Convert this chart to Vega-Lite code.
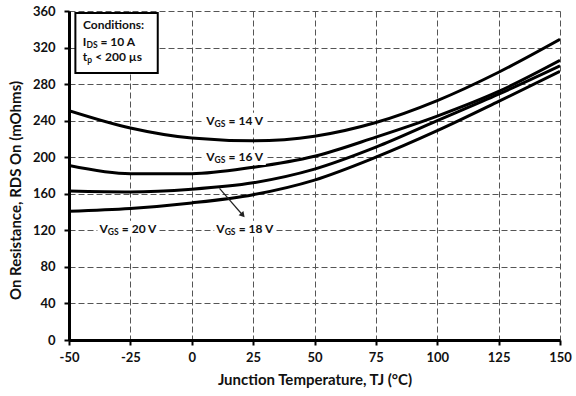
{
  "$schema": "https://vega.github.io/schema/vega-lite/v6.json",
  "width": 491,
  "height": 329,
  "autosize": {"type": "none"},
  "padding": {"left": 69, "top": 11, "right": 16, "bottom": 56},
  "background": "white",
  "config": {
    "view": {"stroke": null},
    "font": "Lato",
    "text": {"font": "Lato", "fontWeight": "bold", "fontSize": 12, "color": "#111"},
    "axis": {
      "titleFont": "Lato", "titleFontSize": 15, "titleFontWeight": "bold", "titleColor": "#111",
      "labelFont": "Lato", "labelFontSize": 13, "labelFontWeight": "bold", "labelColor": "#111",
      "labelFlush": false, "labelOverlap": false,
      "domainColor": "black", "domainWidth": 3,
      "tickColor": "black", "tickWidth": 2, "tickSize": 5,
      "grid": true, "gridColor": "#555", "gridDash": [6, 3], "gridWidth": 1
    }
  },
  "datasets": {
    "curves": [
      {"T": -50, "R": 251, "s": "14 V"}, {"T": -25, "R": 232, "s": "14 V"}, {"T": 0, "R": 221, "s": "14 V"}, {"T": 25, "R": 218, "s": "14 V"}, {"T": 50, "R": 223, "s": "14 V"}, {"T": 75, "R": 238, "s": "14 V"}, {"T": 100, "R": 262, "s": "14 V"}, {"T": 125, "R": 293, "s": "14 V"}, {"T": 150, "R": 329, "s": "14 V"},
      {"T": -50, "R": 191, "s": "16 V"}, {"T": -25, "R": 182, "s": "16 V"}, {"T": 0, "R": 182, "s": "16 V"}, {"T": 25, "R": 189, "s": "16 V"}, {"T": 50, "R": 201, "s": "16 V"}, {"T": 75, "R": 222, "s": "16 V"}, {"T": 100, "R": 245, "s": "16 V"}, {"T": 125, "R": 272, "s": "16 V"}, {"T": 150, "R": 306, "s": "16 V"},
      {"T": -50, "R": 163, "s": "18 V"}, {"T": -25, "R": 162, "s": "18 V"}, {"T": 0, "R": 165, "s": "18 V"}, {"T": 25, "R": 172, "s": "18 V"}, {"T": 50, "R": 187, "s": "18 V"}, {"T": 75, "R": 211, "s": "18 V"}, {"T": 100, "R": 240, "s": "18 V"}, {"T": 125, "R": 269, "s": "18 V"}, {"T": 150, "R": 300, "s": "18 V"},
      {"T": -50, "R": 141, "s": "20 V"}, {"T": -25, "R": 144, "s": "20 V"}, {"T": 0, "R": 150, "s": "20 V"}, {"T": 25, "R": 159, "s": "20 V"}, {"T": 50, "R": 175, "s": "20 V"}, {"T": 75, "R": 200, "s": "20 V"}, {"T": 100, "R": 229, "s": "20 V"}, {"T": 125, "R": 261, "s": "20 V"}, {"T": 150, "R": 294, "s": "20 V"}
    ],
    "labels": [
      {"T": 9.3, "R": 240, "base": "V", "sub": "GS", "rest": "= 14 V", "kind": "v"},
      {"T": 9.3, "R": 200, "base": "V", "sub": "GS", "rest": "= 16 V", "kind": "v"},
      {"T": 13.4, "R": 122, "base": "V", "sub": "GS", "rest": "= 18 V", "kind": "v"},
      {"T": -34.2, "R": 122, "base": "V", "sub": "GS", "rest": "= 20 V", "kind": "v"},
      {"T": -42.9, "R": 326, "base": "I", "sub": "DS", "rest": "= 10 A", "kind": "c"},
      {"T": -42.6, "R": 310, "base": "t", "sub": "p", "rest": "< 200 µs", "kind": "p"}
    ],
    "box": [{"T1": -47.4, "T2": -13.85, "R1": 292.2, "R2": 357.8}],
    "heading": [{"T": -44.3, "R": 344.5, "text": "Conditions:"}],
    "arrow": [{"T1": 11.3, "R1": 166, "T2": 20.8, "R2": 136.5}]
  },
  "layer": [
    {
      "data": {"name": "curves"},
      "mark": {"type": "line", "interpolate": "monotone", "color": "black", "strokeWidth": 3, "clip": true},
      "encoding": {
        "x": {
          "field": "T", "type": "quantitative",
          "scale": {"domain": [-50, 150], "nice": false, "zero": false},
          "axis": {
            "values": [-50, -25, 0, 25, 50, 75, 100, 125, 150],
            "tickCount": 20,
            "labelExpr": "replace(datum.label, '−', '-')",
            "title": "Junction Temperature, TJ (°C)",
            "titleY": 39, "titleBaseline": "middle",
            "labelPadding": 6
          }
        },
        "y": {
          "field": "R", "type": "quantitative",
          "scale": {"domain": [0, 360], "nice": false},
          "axis": {
            "values": [0, 40, 80, 120, 160, 200, 240, 280, 320, 360],
            "tickCount": 20,
            "title": "On Resistance, RDS On (mOhms)",
            "titleX": -54, "titleY": 179, "titleAngle": -90, "titleAlign": "center", "titleBaseline": "middle",
            "labelPadding": 9
          }
        },
        "detail": {"field": "s", "type": "nominal"}
      }
    },
    {
      "data": {"name": "box"},
      "mark": {"type": "rect", "fill": "white", "stroke": "black", "strokeWidth": 2},
      "encoding": {
        "x": {"field": "T1", "type": "quantitative"},
        "x2": {"field": "T2"},
        "y": {"field": "R1", "type": "quantitative"},
        "y2": {"field": "R2"}
      }
    },
    {
      "data": {"name": "heading"},
      "mark": {"type": "text", "align": "left", "baseline": "middle"},
      "encoding": {
        "x": {"field": "T", "type": "quantitative"},
        "y": {"field": "R", "type": "quantitative"},
        "text": {"field": "text"}
      }
    },
    {
      "data": {"name": "labels"},
      "transform": [{"filter": "datum.kind === 'v'"}],
      "mark": {"type": "point", "shape": "M-0.4,-0.3H1.97V0.3H-0.4Z", "size": 2704, "filled": true, "color": "white", "opacity": 1, "strokeWidth": 0},
      "encoding": {
        "x": {"field": "T", "type": "quantitative"},
        "y": {"field": "R", "type": "quantitative"}
      }
    },
    {
      "data": {"name": "arrow"},
      "mark": {"type": "rule", "color": "#222", "strokeWidth": 1.2},
      "encoding": {
        "x": {"field": "T1", "type": "quantitative"},
        "y": {"field": "R1", "type": "quantitative"},
        "x2": {"field": "T2"},
        "y2": {"field": "R2"}
      }
    },
    {
      "data": {"name": "arrow"},
      "mark": {"type": "point", "shape": "triangle-right", "size": 40, "filled": true, "color": "#222", "opacity": 1, "angle": 49},
      "encoding": {
        "x": {"field": "T2", "type": "quantitative"},
        "y": {"field": "R2", "type": "quantitative"}
      }
    },
    {
      "data": {"name": "labels"},
      "mark": {"type": "text", "align": "right", "baseline": "middle"},
      "encoding": {
        "x": {"field": "T", "type": "quantitative"},
        "y": {"field": "R", "type": "quantitative"},
        "text": {"field": "base"}
      }
    },
    {
      "data": {"name": "labels"},
      "mark": {"type": "text", "align": "left", "baseline": "middle", "fontSize": 8.5, "dy": 3},
      "encoding": {
        "x": {"field": "T", "type": "quantitative"},
        "y": {"field": "R", "type": "quantitative"},
        "text": {"field": "sub"}
      }
    },
    {
      "data": {"name": "labels"},
      "transform": [{"filter": "datum.kind !== 'p'"}],
      "mark": {"type": "text", "align": "left", "baseline": "middle", "dx": 14},
      "encoding": {
        "x": {"field": "T", "type": "quantitative"},
        "y": {"field": "R", "type": "quantitative"},
        "text": {"field": "rest"}
      }
    },
    {
      "data": {"name": "labels"},
      "transform": [{"filter": "datum.kind === 'p'"}],
      "mark": {"type": "text", "align": "left", "baseline": "middle", "dx": 8},
      "encoding": {
        "x": {"field": "T", "type": "quantitative"},
        "y": {"field": "R", "type": "quantitative"},
        "text": {"field": "rest"}
      }
    }
  ]
}
